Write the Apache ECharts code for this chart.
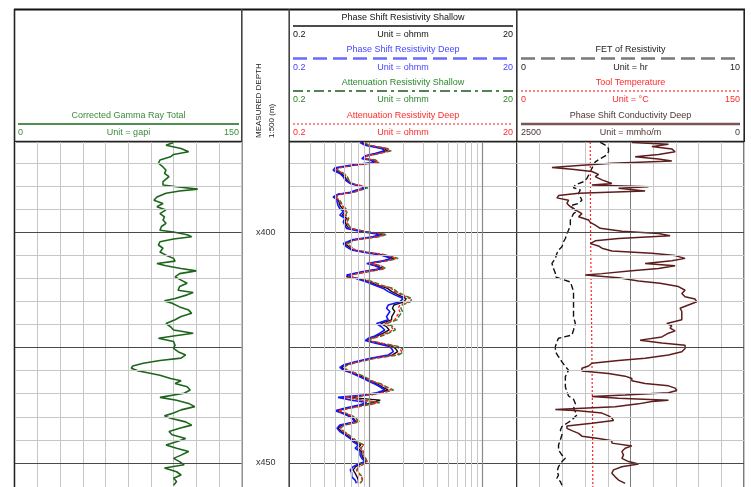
<!DOCTYPE html>
<html>
<head>
<meta charset="utf-8">
<script src="https://cdn.jsdelivr.net/npm/echarts@6.0.0/dist/echarts.min.js"></script>
<style>
  html, body { margin: 0; padding: 0; background: #fff; }
  #chart { width: 751px; height: 487px; }
</style>
</head>
<body>
<div id="chart"></div>
<script>
// ---- data (depth in m, values in track units) ----
const gammaDepth = [380.6,381.2,381.9,382.6,383.2,383.7,384.4,385.1,385.9,386.6,387.3,388.0,389.1,389.8,390.2,390.7,391.1,391.6,392.4,393.1,
  393.8,394.5,395.2,396.0,396.7,397.4,398.1,398.8,399.6,400.0,400.6,401.0,401.5,402.1,402.8,403.5,404.3,405.0,405.7,406.3,
  406.8,407.3,407.9,408.4,409.0,409.7,410.4,411.1,411.8,412.6,413.1,413.6,414.4,414.9,415.4,416.2,
  416.9,417.6,418.3,419.0,419.8,420.5,421.2,421.9,422.5,423.0,423.7,424.5,425.2,425.9,426.6,427.3,427.8,428.4,429.0,429.5,
  430.0,430.4,431.0,431.7,432.2,432.8,433.5,434.2,434.9,435.8,436.4,437.1,437.8,438.5,439.2,439.8,440.3,441.1,441.8,442.5,
  443.2,443.9,444.7,445.4,446.1,446.8,447.5,448.3,449.0,449.7,450.4,451.1,451.9,452.6,453.3,454.0,454.8];
const gammaValue = [105,100,110,115,105,103,96,95,98,100,99,102,98,98,107,121,109,100,94,92,
  98,94,100,96,99,98,100,97,96,105,114,117,105,96,95,98,96,100,105,106,
  94,100,110,120,109,106,110,114,109,108,118,114,106,99,104,109,
  115,117,110,106,100,103,105,118,105,95,105,106,105,108,113,110,96,85,78,77,
  81,87,96,103,110,106,114,116,112,96,107,115,119,110,105,99,103,113,117,109,
  102,104,113,107,100,107,115,110,105,109,112,99,107,110,105,107,105];

const resDepth = [380.6,381.2,381.9,382.4,383.0,383.5,384.1,384.4,384.9,385.5,386.1,386.6,387.3,388.0,388.7,389.5,390.2,390.5,390.9,391.4,
  391.8,392.4,392.9,393.4,394.2,394.9,395.6,396.3,397.0,397.8,398.5,399.2,399.9,400.5,401.0,401.7,402.5,403.2,403.9,404.4,
  405.0,405.7,406.3,406.8,407.3,407.9,408.6,409.3,409.7,410.2,410.8,411.5,412.2,412.9,413.6,414.4,415.1,415.8,416.5,417.2,
  418.3,419.0,419.8,420.5,421.2,421.9,422.5,423.0,423.5,424.1,424.7,425.2,425.9,426.6,427.3,428.1,428.8,429.3,429.9,430.4,
  431.0,431.7,432.4,432.9,433.5,434.2,434.8,435.3,435.8,436.4,436.9,437.4,438.2,438.7,439.2,439.8,440.3,441.1,441.8,442.5,
  443.2,443.9,444.7,445.4,446.1,446.8,447.5,448.3,449.0,449.7,450.2,450.8,451.5,452.2,453.0,453.7,454.4];
const psShallow = [0.86,0.95,1.35,1.45,1.16,0.94,0.89,1.06,1.16,0.72,0.52,0.50,0.57,0.61,0.63,0.69,0.89,0.94,0.80,0.70,
  0.54,0.49,0.52,0.54,0.55,0.58,0.61,0.58,0.63,0.61,0.63,0.66,0.89,1.30,1.14,0.72,0.61,0.66,0.72,0.95,
  1.35,1.66,1.32,0.98,1.18,1.32,0.90,0.66,0.63,0.84,1.00,1.18,1.45,1.58,1.80,2.12,2.02,1.65,1.60,1.68,
  1.58,1.57,1.26,1.42,1.50,1.33,1.18,1.01,0.95,1.22,1.57,1.70,1.78,1.60,1.08,0.77,0.61,0.57,0.61,0.70,
  0.80,0.92,1.05,1.18,1.30,1.47,1.22,0.93,0.66,1.25,1.08,0.90,0.62,0.52,0.59,0.68,0.72,0.77,0.57,0.53,
  0.57,0.63,0.70,0.75,0.84,0.79,0.86,0.86,0.89,0.94,0.84,0.76,0.72,0.75,0.78,0.80,0.80];
const psDeep = [0.83,0.92,1.28,1.37,1.12,0.92,0.86,1.01,1.12,0.70,0.50,0.48,0.55,0.59,0.61,0.68,0.86,0.92,0.77,0.68,
  0.53,0.48,0.52,0.52,0.53,0.55,0.59,0.55,0.61,0.59,0.61,0.63,0.86,1.24,1.08,0.70,0.59,0.63,0.70,0.92,
  1.28,1.57,1.28,0.95,1.12,1.28,0.86,0.63,0.61,0.80,0.95,1.12,1.33,1.47,1.68,1.99,1.86,1.47,1.42,1.52,
  1.42,1.47,1.16,1.28,1.37,1.24,1.12,0.98,0.92,1.16,1.47,1.57,1.63,1.47,1.05,0.75,0.59,0.55,0.59,0.68,
  0.77,0.89,1.01,1.12,1.24,1.37,1.16,0.89,0.53,0.70,0.95,0.83,0.59,0.50,0.57,0.65,0.70,0.75,0.55,0.52,
  0.55,0.61,0.68,0.72,0.80,0.75,0.83,0.83,0.86,0.92,0.80,0.72,0.68,0.70,0.70,0.75,0.77];
const atShallow = [0.90,1.00,1.45,1.56,1.22,0.97,0.93,1.14,1.22,0.76,0.54,0.52,0.60,0.64,0.66,0.71,0.93,0.97,0.84,0.73,
  0.56,0.51,0.54,0.56,0.58,0.62,0.64,0.62,0.66,0.64,0.66,0.69,0.94,1.42,1.24,0.76,0.64,0.69,0.76,1.00,
  1.46,1.80,1.40,1.03,1.27,1.40,0.97,0.69,0.66,0.91,1.08,1.28,1.62,1.75,2.00,2.38,2.30,1.95,1.90,1.96,
  1.82,1.76,1.42,1.64,1.70,1.48,1.28,1.08,1.00,1.32,1.76,1.95,2.02,1.82,1.15,0.82,0.64,0.60,0.64,0.73,
  0.85,0.97,1.10,1.28,1.42,1.64,1.32,1.00,0.62,0.88,1.24,1.00,0.66,0.54,0.62,0.71,0.76,0.82,0.60,0.56,
  0.60,0.66,0.73,0.78,0.90,0.84,0.90,0.90,0.93,0.96,0.90,0.81,0.78,0.81,0.87,0.87,0.84];
const atDeep = [0.89,0.98,1.42,1.52,1.20,0.95,0.92,1.12,1.20,0.75,0.53,0.52,0.59,0.63,0.65,0.70,0.92,0.95,0.83,0.72,
  0.55,0.50,0.53,0.55,0.57,0.61,0.63,0.61,0.65,0.63,0.65,0.68,0.92,1.37,1.20,0.75,0.63,0.68,0.75,0.98,
  1.42,1.74,1.37,1.01,1.24,1.37,0.95,0.68,0.65,0.89,1.05,1.24,1.57,1.68,1.93,2.28,2.20,1.86,1.80,1.86,
  1.74,1.68,1.37,1.57,1.63,1.42,1.24,1.05,0.98,1.28,1.68,1.86,1.93,1.74,1.12,0.80,0.63,0.59,0.63,0.72,
  0.83,0.95,1.08,1.24,1.37,1.57,1.28,0.98,0.61,0.86,1.20,0.98,0.65,0.53,0.61,0.70,0.75,0.80,0.59,0.55,
  0.59,0.65,0.72,0.77,0.89,0.83,0.89,0.89,0.92,0.95,0.89,0.80,0.77,0.80,0.86,0.86,0.83];

const condDepth = [380.6,381.0,381.5,382.0,382.6,383.2,383.7,384.2,384.6,385.1,385.6,386.0,386.4,386.9,387.5,388.0,388.7,389.5,389.8,390.2,
  390.5,391.1,391.6,392.1,392.6,393.1,393.8,394.5,395.2,396.0,396.7,397.4,397.9,398.5,399.2,399.8,400.3,400.8,401.4,401.9,
  402.5,403.0,403.5,404.1,404.6,405.1,405.7,406.2,406.8,407.3,407.9,408.4,409.0,409.3,409.9,410.6,411.1,411.8,412.6,413.3,
  414.0,414.5,415.1,415.8,416.5,417.2,
  417.6,418.3,419.0,419.8,420.3,420.8,421.4,421.9,422.7,423.4,424.0,424.5,425.2,425.9,426.6,427.3,427.8,428.4,429.0,429.5,
  430.1,430.6,431.2,431.7,432.2,432.8,433.3,433.8,434.3,434.8,435.3,435.6,436.0,436.4,436.7,437.2,437.8,438.4,438.7,439.2,
  439.8,440.3,440.8,441.4,442.0,442.5,443.0,443.6,444.2,444.7,445.2,445.7,446.3,446.8,447.5,448.3,449.0,449.7,450.2,450.8,
  451.5,452.2,453.0,453.7,454.4];
const condValue = [1235,832,1015,795,759,942,1199,942,795,1455,1822,2115,1895,1675,1602,1638,1565,1455,1675,1052,
  1382,1089,1822,2042,2060,1932,1950,1913,1858,1785,1822,1712,1693,1638,1583,1345,942,814,1382,1638,
  1693,1602,1565,1455,1015,759,649,795,1089,759,942,1235,1565,1748,1382,1162,924,722,649,685,
  649,539,520,612,704,685,
  667,685,685,850,795,814,759,832,905,1144,905,649,649,685,832,1089,1382,1675,1712,1785,
  1785,1492,1309,1235,1235,1089,832,759,740,832,1309,1675,1382,832,1015,1162,1419,2078,1822,1565,
  1492,1455,1437,1675,1950,1950,1895,1822,1785,1602,1455,1455,1235,1309,1345,1327,1345,1272,1162,1345,
  1437,1455,1419,1382,1309];

const fetDepth = [380.6,381.2,381.9,382.6,383.3,384.1,384.8,385.5,386.2,386.9,387.7,388.4,389.1,389.8,390.4,390.9,391.6,392.4,393.1,393.8,
  394.3,394.9,395.5,396.0,396.7,397.4,398.5,399.6,400.3,401.4,402.1,403.2,403.9,404.6,405.7,406.8,407.9,408.9,409.7,410.2,
  410.8,411.8,412.9,414.4,415.8,417.2,
  418.3,419.8,421.2,422.3,423.0,423.7,424.8,425.9,427.0,428.1,429.1,429.9,430.6,431.3,432.4,433.5,434.6,435.5,436.2,437.1,
  438.2,438.9,439.6,440.7,441.4,442.1,442.9,443.9,445.0,446.1,447.2,448.3,449.0,449.7,450.8,451.9,452.6,453.3,454.0,454.8];
const fetValue = [3.67,3.89,4.03,4.03,3.96,3.67,3.45,3.37,3.30,3.23,3.15,3.08,2.93,2.57,2.49,2.79,2.71,2.79,2.86,2.71,
  2.35,2.49,2.64,2.49,2.42,2.35,2.35,2.27,2.20,2.13,2.05,1.98,1.83,1.76,1.69,1.54,1.61,1.69,1.69,1.98,
  2.35,2.42,2.49,2.49,2.49,2.49,
  2.49,2.57,2.49,2.42,1.83,1.76,1.69,1.69,1.83,1.98,2.13,2.27,2.20,2.13,2.13,2.13,2.20,2.27,2.49,2.57,
  2.49,2.57,2.64,2.42,2.20,1.98,1.91,1.98,1.91,1.83,1.83,1.98,2.13,1.98,1.83,1.76,1.83,1.76,1.91,1.98];

const tempDepth = [380.5, 400, 420, 440, 455.2];
const tempValue = [48.4, 48.6, 49.3, 49.9, 50.1];

// grid / scale values
const depthMin = 380.5;
const depthMax = 455.2;
const depthLines = [385,390,395,400,405,410,415,420,425,430,435,440,445,450];
const majorDepths = [400, 425, 450];
const depthLabels = [400, 450];
const logLines = [0.3,0.4,0.5,0.6,0.7,0.8,0.9,1,2,3,4,5,6,7,8,9,10];
const decadeLines = [1, 10];

const FONT = '"Liberation Sans", Arial, sans-serif';

function zip(xs, ys) {
  return xs.map((x, i) => [x, ys[i]]);
}

// horizontal + vertical grid lines as mark lines
function gridSeries(xi, yi, vLines) {
  let data = depthLines.map(d => ({
    yAxis: d,
    lineStyle: majorDepths.indexOf(d) >= 0
      ? { color: '#4a4a4a', width: 1.2, type: 'solid' }
      : { color: '#c6c6c6', width: 1, type: 'solid' }
  }));
  if (vLines) {
    vLines.forEach(v => data.push({
      xAxis: v,
      lineStyle: decadeLines.indexOf(v) >= 0
        ? { color: '#8a8a8a', width: 1.2, type: 'solid' }
        : { color: '#c6c6c6', width: 1, type: 'solid' }
    }));
  }
  return {
    type: 'line', xAxisIndex: xi, yAxisIndex: yi, data: [], z: 1, silent: true,
    markLine: { silent: true, symbol: ['none', 'none'], label: { show: false }, animation: false,
      lineStyle: { type: 'solid' }, emphasis: { disabled: true }, data: data }
  };
}

function curve(name, xi, yi, xs, ys, color, width, type) {
  return {
    name: name, type: 'line', xAxisIndex: xi, yAxisIndex: yi, z: 3,
    data: zip(xs, ys), showSymbol: false, symbol: 'none', silent: true,
    lineStyle: { color: color, width: width, type: type || 'solid' }
  };
}

// header helpers
function hl(x1, x2, y, color, w, dash) {
  return { type: 'line', silent: true, shape: { x1: x1, y1: y, x2: x2, y2: y },
    style: { stroke: color, lineWidth: w, lineDash: dash || null } };
}
function vl(x, y1, y2, color, w) {
  return { type: 'line', silent: true, shape: { x1: x, y1: y1, x2: x, y2: y2 },
    style: { stroke: color, lineWidth: w } };
}
function tx(s, x, y, color, align, rot, size) {
  return { type: 'text', silent: true, x: x, y: y, rotation: rot || 0,
    style: { text: s, fill: color, fontSize: size || 9, fontFamily: FONT, align: align || 'center', verticalAlign: 'middle' } };
}
// one header block: title, sample line, min / unit / max
function block(x1, x2, y, title, unit, lo, hi, tcolor, lcolor, lw, dash) {
  return [
    tx(title, (x1 + x2) / 2, y, tcolor),
    hl(x1, x2, y + 8.5, lcolor, lw, dash),
    tx(lo, x1, y + 17.5, tcolor, 'left'),
    tx(unit, (x1 + x2) / 2, y + 17.5, tcolor),
    tx(hi, x2, y + 17.5, tcolor, 'right')
  ];
}

let header = [].concat(
  block(18, 239, 115.5, 'Corrected Gamma Ray Total', 'Unit = gapi', '0', '150', '#3b8a3b', '#4f8f4f', 2),
  block(293, 513, 17.5, 'Phase Shift Resistivity Shallow', 'Unit = ohmm', '0.2', '20', '#111', '#111', 1.5),
  block(293, 513, 50, 'Phase Shift Resistivity Deep', 'Unit = ohmm', '0.2', '20', '#4646ff', '#6a6aff', 2.5, [14, 6]),
  block(293, 513, 82.5, 'Attenuation Resistivity Shallow', 'Unit = ohmm', '0.2', '20', '#2a862a', '#1e5a1e', 1.5, [10, 4, 3, 4]),
  block(293, 513, 115.5, 'Attenuation Resistivity Deep', 'Unit = ohmm', '0.2', '20', '#ff2a2a', '#ff4040', 1.2, [2, 2]),
  block(521, 740, 50, 'FET of Resistivity', 'Unit = hr', '0', '10', '#222', '#7a7a7a', 2.5, [14, 6]),
  block(521, 740, 82.5, 'Tool Temperature', 'Unit = \u00b0C', '0', '150', '#ff2a2a', '#ff3030', 1.2, [2, 2]),
  block(521, 740, 115.5, 'Phase Shift Conductivity Deep', 'Unit = mmho/m', '2500', '0', '#4a3636', '#7a5656', 2.5),
  [
    tx('MEASURED DEPTH', 259, 138, '#222', 'left', Math.PI / 2, 8),
    tx('1:500 (m)', 271.5, 138, '#222', 'left', Math.PI / 2, 8),
    hl(14, 745, 9.5, '#111', 2.2),
    vl(14.5, 9, 487, '#222', 1.6),
    vl(241.8, 9, 487, '#444', 1.6),
    vl(289.2, 9, 487, '#444', 1.6),
    vl(516.8, 9, 487, '#333', 1.6),
    vl(744.2, 9, 487, '#222', 1.6),
    hl(14, 242, 141.6, '#222', 1.6),
    hl(289, 745, 141.6, '#222', 1.6)
  ]
);

const myChart = echarts.init(document.getElementById('chart'));

function depthAxis(gi) {
  return { type: 'value', gridIndex: gi, inverse: true, min: depthMin, max: depthMax, show: false };
}
function plainX(gi, opt) {
  return Object.assign({
    type: 'value', gridIndex: gi, show: true,
    axisLine: { show: false }, axisTick: { show: false }, axisLabel: { show: false },
    splitLine: { show: false }
  }, opt);
}

let option = {
  animation: false,
  backgroundColor: '#fff',
  grid: [
    { left: 15, top: 142, width: 226.5, height: 345 },
    { left: 290, top: 142, width: 226.8, height: 345 },
    { left: 517, top: 142, width: 227, height: 345 },
    { left: 242, top: 142, width: 47, height: 345 }
  ],
  xAxis: [
    plainX(0, { min: 0, max: 150, interval: 15,
      splitLine: { show: true, lineStyle: { color: '#c6c6c6', width: 1 } } }),
    plainX(1, { type: 'log', logBase: 10, min: 0.2, max: 20 }),
    plainX(2, { min: 0, max: 10, interval: 1,
      splitLine: { show: true, lineStyle: { width: 1,
        color: ['#c6c6c6', '#c6c6c6', '#c6c6c6', '#c6c6c6', '#c6c6c6', '#7a7a7a', '#c6c6c6', '#c6c6c6', '#c6c6c6', '#c6c6c6'] } } }),
    { type: 'value', gridIndex: 2, min: 0, max: 2500, inverse: true, show: false },
    { type: 'value', gridIndex: 2, min: 0, max: 150, show: false },
    { type: 'value', gridIndex: 3, min: 0, max: 1, show: false }
  ],
  yAxis: [
    depthAxis(0), depthAxis(1), depthAxis(2),
    {
      type: 'value', gridIndex: 3, inverse: true, min: depthMin, max: depthMax, show: true,
      axisLine: { show: false }, axisTick: { show: false }, splitLine: { show: false },
      axisLabel: { show: true, inside: true, margin: 14, customValues: depthLabels,
        formatter: v => 'x' + v, fontSize: 9, fontFamily: FONT, color: '#333' }
    }
  ],
  graphic: header,
  series: [
    gridSeries(0, 0),
    gridSeries(1, 1, logLines),
    gridSeries(2, 2),
    curve('Corrected Gamma Ray Total', 0, 0, gammaValue, gammaDepth, '#1c661c', 1.6),
    curve('Phase Shift Resistivity Shallow', 1, 1, psShallow, resDepth, '#111', 1.4),
    curve('Attenuation Resistivity Shallow', 1, 1, atShallow, resDepth, '#2a7a2a', 1.4, [5, 2]),
    curve('Phase Shift Resistivity Deep', 1, 1, psDeep, resDepth, '#1515ff', 1.6),
    curve('Attenuation Resistivity Deep', 1, 1, atDeep, resDepth, '#ff2020', 1.4, [3, 2]),
    curve('FET of Resistivity', 2, 2, fetValue, fetDepth, '#111', 1.4, [6, 3]),
    curve('Tool Temperature', 4, 2, tempValue, tempDepth, '#ff2020', 1.2, [2, 2]),
    curve('Phase Shift Conductivity Deep', 3, 2, condValue, condDepth, '#5e1c1c', 1.5)
  ]
};
myChart.setOption(option);
</script>
</body>
</html>
